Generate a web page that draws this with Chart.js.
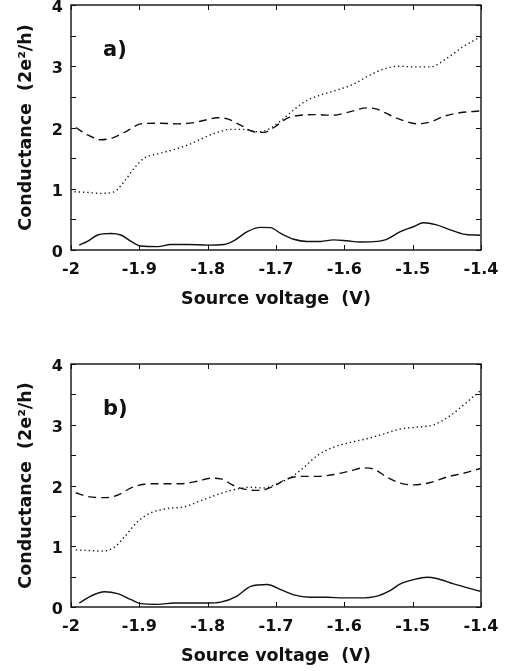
<!DOCTYPE html>
<html>
<head>
<meta charset="utf-8">
<script src="https://cdn.jsdelivr.net/npm/chart.js@4/dist/chart.umd.min.js"></script>
<style>
  body { margin: 0; background: #fff; }
  .panel { position: absolute; left: 0; }
</style>
</head>
<body>
<div class="panel" style="top:0px"><canvas id="chartA" width="506" height="320"></canvas></div>
<div class="panel" style="top:340px"><canvas id="chartB" width="506" height="331"></canvas></div>
<script>
// axis ticks
const xTicks = [-2, -1.9, -1.8, -1.7, -1.6, -1.5, -1.4];
const xTickLabels = ['-2', '-1.9', '-1.8', '-1.7', '-1.6', '-1.5', '-1.4'];
const yTicks = [0, 0.5, 1, 1.5, 2, 2.5, 3, 3.5, 4];
const yTickLabels = ['0', '', '1', '', '2', '', '3', '', '4'];

// panel a) - solid curve
const aSolidV = [-1.988, -1.976, -1.961, -1.942, -1.927, -1.912, -1.898, -1.873, -1.854, -1.830, -1.800, -1.776, -1.762, -1.742, -1.723, -1.708, -1.693, -1.674, -1.655, -1.635, -1.616, -1.596, -1.577, -1.557, -1.538, -1.518, -1.499, -1.484, -1.465, -1.445, -1.426, -1.401];
const aSolidG = [0.08, 0.14, 0.245, 0.27, 0.245, 0.14, 0.065, 0.055, 0.09, 0.09, 0.08, 0.09, 0.15, 0.30, 0.37, 0.365, 0.27, 0.175, 0.14, 0.14, 0.165, 0.15, 0.13, 0.136, 0.175, 0.30, 0.38, 0.445, 0.41, 0.33, 0.26, 0.24];
// panel a) - dashed curve
const aDashV = [-1.993, -1.976, -1.956, -1.937, -1.917, -1.898, -1.873, -1.844, -1.820, -1.800, -1.786, -1.771, -1.752, -1.732, -1.718, -1.703, -1.684, -1.664, -1.645, -1.616, -1.591, -1.567, -1.552, -1.533, -1.513, -1.494, -1.474, -1.455, -1.431, -1.401];
const aDashG = [2.0, 1.88, 1.80, 1.84, 1.95, 2.06, 2.07, 2.06, 2.08, 2.13, 2.16, 2.14, 2.04, 1.93, 1.92, 2.00, 2.15, 2.20, 2.21, 2.20, 2.26, 2.32, 2.30, 2.20, 2.11, 2.06, 2.09, 2.18, 2.24, 2.27];
// panel a) - dotted curve
const aDotV = [-1.995, -1.976, -1.956, -1.937, -1.922, -1.908, -1.893, -1.873, -1.849, -1.830, -1.810, -1.791, -1.766, -1.747, -1.727, -1.713, -1.693, -1.674, -1.655, -1.635, -1.611, -1.586, -1.562, -1.538, -1.518, -1.499, -1.474, -1.450, -1.426, -1.401];
const aDotG = [0.95, 0.94, 0.925, 0.95, 1.12, 1.33, 1.50, 1.57, 1.64, 1.71, 1.81, 1.90, 1.97, 1.97, 1.93, 1.96, 2.11, 2.29, 2.44, 2.53, 2.61, 2.71, 2.86, 2.97, 3.00, 2.99, 2.99, 3.13, 3.32, 3.48];

// panel b) - solid curve
const bSolidV = [-1.988, -1.971, -1.951, -1.932, -1.912, -1.898, -1.873, -1.849, -1.825, -1.800, -1.781, -1.757, -1.737, -1.713, -1.693, -1.674, -1.650, -1.625, -1.601, -1.577, -1.552, -1.533, -1.518, -1.499, -1.479, -1.465, -1.440, -1.401];
const bSolidG = [0.066, 0.18, 0.25, 0.22, 0.12, 0.055, 0.044, 0.066, 0.066, 0.066, 0.08, 0.18, 0.34, 0.37, 0.285, 0.20, 0.16, 0.16, 0.15, 0.15, 0.18, 0.27, 0.38, 0.45, 0.49, 0.47, 0.38, 0.26];
// panel b) - dashed curve
const bDashV = [-1.993, -1.976, -1.951, -1.932, -1.912, -1.893, -1.869, -1.839, -1.815, -1.796, -1.781, -1.762, -1.742, -1.723, -1.703, -1.684, -1.664, -1.640, -1.616, -1.591, -1.572, -1.557, -1.538, -1.518, -1.499, -1.474, -1.450, -1.426, -1.401];
const bDashG = [1.88, 1.82, 1.80, 1.84, 1.96, 2.02, 2.03, 2.03, 2.07, 2.12, 2.11, 2.00, 1.93, 1.92, 1.99, 2.11, 2.15, 2.15, 2.18, 2.24, 2.29, 2.27, 2.14, 2.04, 2.01, 2.05, 2.14, 2.20, 2.28];
// panel b) - dotted curve
const bDotV = [-1.993, -1.976, -1.956, -1.937, -1.922, -1.903, -1.883, -1.859, -1.834, -1.810, -1.786, -1.762, -1.737, -1.718, -1.698, -1.679, -1.659, -1.640, -1.616, -1.591, -1.567, -1.542, -1.518, -1.494, -1.469, -1.445, -1.421, -1.401];
const bDotG = [0.94, 0.93, 0.92, 0.98, 1.15, 1.40, 1.55, 1.62, 1.65, 1.75, 1.85, 1.93, 1.97, 1.96, 2.03, 2.13, 2.30, 2.49, 2.63, 2.71, 2.77, 2.85, 2.93, 2.96, 3.00, 3.15, 3.37, 3.56];

const FONT = 'DejaVu Sans';

function pts(xs, ys) {
    return xs.map((x, i) => ({ x: x, y: ys[i] }));
}

function line(xs, ys, dash) {
    return {
        data: pts(xs, ys),
        borderColor: '#111',
        borderWidth: 1.4,
        borderDash: dash,
        pointRadius: 0,
        fill: false,
        cubicInterpolationMode: 'monotone'
    };
}

// frame, inward ticks and panel letter
const framePlugin = {
    id: 'frame',
    afterDraw(chart, args, opts) {
        const ctx = chart.ctx;
        const a = chart.chartArea;
        const xs = chart.scales.x, ys = chart.scales.y;
        ctx.save();
        ctx.strokeStyle = '#111';
        ctx.lineWidth = 1.4;
        ctx.strokeRect(a.left, a.top, a.right - a.left, a.bottom - a.top);
        ctx.lineWidth = 1;
        ctx.beginPath();
        xTicks.forEach(v => {
            const px = Math.round(xs.getPixelForValue(v)) + 0.5;
            ctx.moveTo(px, a.bottom); ctx.lineTo(px, a.bottom - 5);
            ctx.moveTo(px, a.top); ctx.lineTo(px, a.top + 5);
        });
        yTicks.forEach(v => {
            const py = Math.round(ys.getPixelForValue(v)) + 0.5;
            ctx.moveTo(a.left, py); ctx.lineTo(a.left + 5, py);
            ctx.moveTo(a.right, py); ctx.lineTo(a.right - 5, py);
        });
        ctx.stroke();
        ctx.fillStyle = '#111';
        ctx.font = 'bold 21px "' + FONT + '"';
        ctx.textBaseline = 'middle';
        ctx.fillText(opts.label, a.left + 32, a.top + 46);
        ctx.restore();
    }
};

function makeChart(id, label, padTop, padBottom, series) {
    const ctx = document.getElementById(id).getContext('2d');
    return new Chart(ctx, {
        type: 'line',
        data: {
            datasets: [
                line(series[0], series[1], []),
                line(series[2], series[3], [8, 5]),
                line(series[4], series[5], [1.3, 3])
            ]
        },
        options: {
            responsive: false,
            animation: false,
            layout: { padding: { top: padTop, bottom: padBottom, left: 0, right: 25 } },
            plugins: {
                legend: { display: false },
                tooltip: { enabled: false },
                frame: { label: label }
            },
            scales: {
                x: {
                    type: 'linear',
                    min: -2,
                    max: -1.4,
                    afterBuildTicks: s => { s.ticks = xTicks.map(v => ({ value: v })); },
                    afterFit: s => { s.height = 60; s.paddingLeft = 0; s.paddingRight = 0; },
                    grid: { display: false, drawTicks: false },
                    border: { display: false },
                    ticks: {
                        padding: 10,
                        color: '#111',
                        font: { family: FONT, size: 16, weight: 'bold' },
                        maxRotation: 0,
                        callback: (v, i) => xTickLabels[i]
                    },
                    title: {
                        display: true,
                        text: 'Source voltage  (V)',
                        color: '#111',
                        font: { family: FONT, size: 17.5, weight: 'bold' },
                        padding: { top: 0, bottom: 0 }
                    }
                },
                y: {
                    min: 0,
                    max: 4,
                    afterBuildTicks: s => { s.ticks = yTicks.map(v => ({ value: v })); },
                    afterFit: s => { s.width = 71; s.paddingTop = 0; s.paddingBottom = 0; },
                    grid: { display: false, drawTicks: false },
                    border: { display: false },
                    ticks: {
                        padding: 8,
                        labelOffset: 3,
                        color: '#111',
                        font: { family: FONT, size: 16, weight: 'bold' },
                        callback: (v, i) => yTickLabels[i]
                    },
                    title: {
                        display: true,
                        text: 'Conductance  (2e²/h)',
                        color: '#111',
                        font: { family: FONT, size: 17.5, weight: 'bold' },
                        padding: { top: 16, bottom: 0 }
                    }
                }
            }
        },
        plugins: [framePlugin]
    });
}

makeChart('chartA', 'a)', 5, 10, [aSolidV, aSolidG, aDashV, aDashG, aDotV, aDotG]);
makeChart('chartB', 'b)', 24, 4, [bSolidV, bSolidG, bDashV, bDashG, bDotV, bDotG]);
</script>
</body>
</html>
